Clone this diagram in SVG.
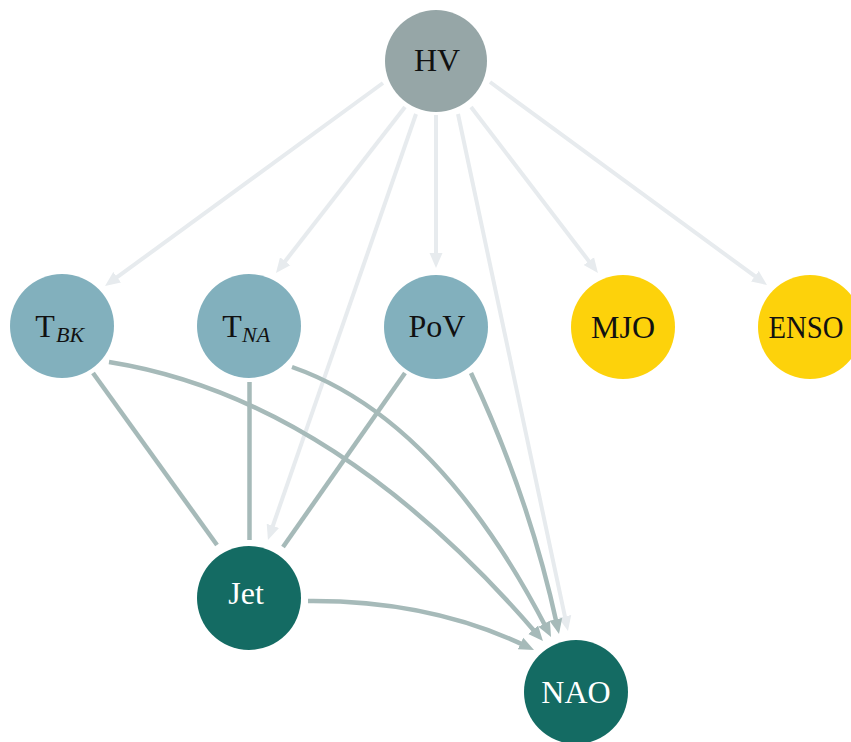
<svg xmlns="http://www.w3.org/2000/svg" width="851" height="742" viewBox="0 0 851 742">
  <style>
    .lbl { font-family: "Liberation Serif", "Times New Roman", serif; font-size: 32px; text-anchor: middle; fill: #111; }
    .sub { font-family: "Liberation Serif", "Times New Roman", serif; font-size: 22px; font-style: italic; fill: #111; }
    .white { fill: #ffffff; }
    .faint { fill: none; stroke: #e7ebee; stroke-width: 4; }
    .link { fill: none; stroke: #a6bab9; stroke-width: 4.5; }
    .hv { fill: #96a6a7; }
    .driver { fill: #82b0bd; }
    .remote { fill: #fdd20b; }
    .target { fill: #146b63; }
  </style>
  <defs>
    <marker id="headFaint" markerUnits="userSpaceOnUse" markerWidth="16" markerHeight="14" refX="6" refY="7" orient="auto">
      <path d="M0,0.5 L15,7 L0,13.5 z" fill="#e7ebee"/>
    </marker>
    <marker id="headLink" markerUnits="userSpaceOnUse" markerWidth="16" markerHeight="14" refX="6" refY="7" orient="auto">
      <path d="M0,0.5 L15,7 L0,13.5 z" fill="#a6bab9"/>
    </marker>
  </defs>

  <g id="connectors">
    <!-- links out of HV -->
    <path class="faint" d="M383,83 L112.3,280.7" marker-end="url(#headFaint)"/>
    <path class="faint" d="M405,107 L281.5,265.9" marker-end="url(#headFaint)"/>
    <path class="faint" d="M416,114 L270.9,531.5" marker-end="url(#headFaint)"/>
    <path class="faint" d="M436,115 L436,259" marker-end="url(#headFaint)"/>
    <path class="faint" d="M458,114 L566.1,622.2" marker-end="url(#headFaint)"/>
    <path class="faint" d="M471,107 L592.5,265.9" marker-end="url(#headFaint)"/>
    <path class="faint" d="M490,82 L759.7,279.7" marker-end="url(#headFaint)"/>

    <!-- undirected links into Jet -->
    <path class="link" d="M93,373 L217,545"/>
    <path class="link" d="M249.5,382 L249.5,540"/>
    <path class="link" d="M405,373 L283,547"/>

    <!-- directed links into NAO -->
    <path class="link" d="M109,362 Q334,398 537.1,634.2" marker-end="url(#headLink)"/>
    <path class="link" d="M292,367 Q438,418 546.9,629.0" marker-end="url(#headLink)"/>
    <path class="link" d="M471,373 Q529,496 557.1,625.2" marker-end="url(#headLink)"/>
    <path class="link" d="M308,601 Q430,600 525.9,646.1" marker-end="url(#headLink)"/>
  </g>

  <g id="node-hv">
    <circle class="hv" cx="436" cy="61" r="51"/>
    <text class="lbl" x="437" y="71">HV</text>
  </g>
  <g id="node-tbk">
    <circle class="driver" cx="62" cy="326" r="52"/>
    <text class="lbl" x="45" y="337">T</text>
    <text class="sub" x="56" y="342">BK</text>
  </g>
  <g id="node-tna">
    <circle class="driver" cx="249" cy="326" r="52"/>
    <text class="lbl" x="232" y="337">T</text>
    <text class="sub" x="242" y="342">NA</text>
  </g>
  <g id="node-pov">
    <circle class="driver" cx="436" cy="327" r="52"/>
    <text class="lbl" x="437" y="337">PoV</text>
  </g>
  <g id="node-mjo">
    <circle class="remote" cx="623" cy="327" r="52"/>
    <text class="lbl" x="623" y="338">MJO</text>
  </g>
  <g id="node-enso">
    <circle class="remote" cx="810" cy="327" r="52"/>
    <text class="lbl" x="806" y="338" textLength="75" lengthAdjust="spacingAndGlyphs">ENSO</text>
  </g>
  <g id="node-jet">
    <circle class="target" cx="249" cy="598" r="52"/>
    <text class="lbl white" x="246" y="604">Jet</text>
  </g>
  <g id="node-nao">
    <circle class="target" cx="576" cy="692" r="52"/>
    <text class="lbl white" x="576" y="703">NAO</text>
  </g>
</svg>
